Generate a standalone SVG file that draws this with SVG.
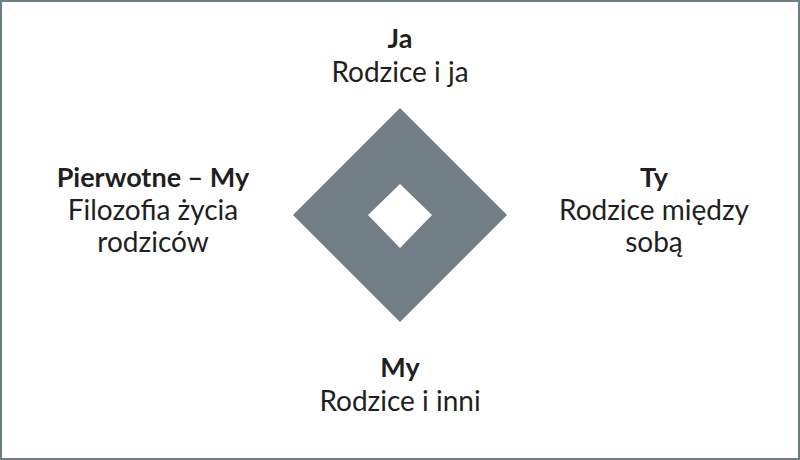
<svg xmlns="http://www.w3.org/2000/svg" width="800" height="460" viewBox="0 0 800 460">
<style>
text{font-family:Lato,"Open Sans","Noto Sans",sans-serif;font-size:28px;fill:#1f1f1f;text-anchor:middle}
.b{font-weight:bold;font-size:27px}
</style>
<rect x="1" y="1" width="798" height="458" fill="#fff" stroke="#6f7d85" stroke-width="2"/>
<g id="diamond">
<path d="M400 108 L507 215 L400 322 L293 215 Z M400 184 L368 215 L400 248 L432 215 Z" fill="#717e86" fill-rule="evenodd"/>
</g>
<g id="connectors"></g>
<g id="ja">
<text class="b" x="400" y="48">Ja</text>
<text x="400" y="82">Rodzice i ja</text>
</g>
<g id="pierwotne">
<text class="b" x="153" y="187">Pierwotne – My</text>
<text x="153" y="220">Filozofia życia</text>
<text x="153" y="252">rodziców</text>
</g>
<g id="ty">
<text class="b" x="654" y="187">Ty</text>
<text x="654" y="220">Rodzice między</text>
<text x="654" y="252">sobą</text>
</g>
<g id="my">
<text class="b" x="400" y="377">My</text>
<text x="400" y="411">Rodzice i inni</text>
</g>
</svg>
